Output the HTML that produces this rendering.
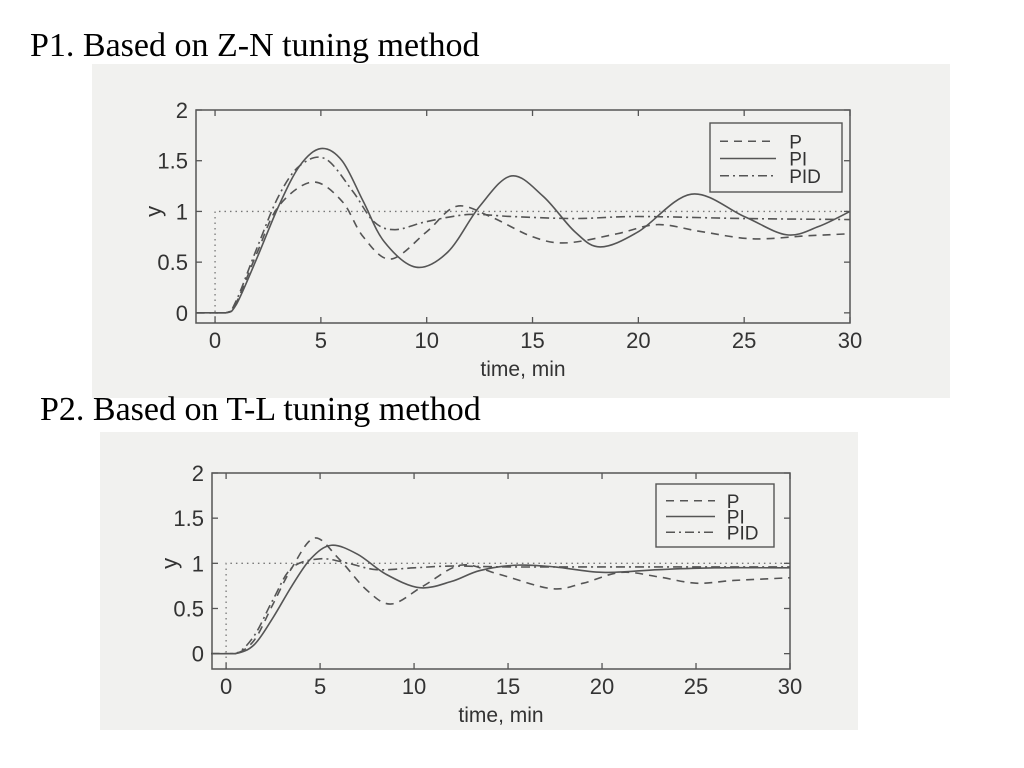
<!DOCTYPE html>
<html><head><meta charset="utf-8">
<style>
html,body{margin:0;padding:0;background:#fff;}
body{width:1024px;height:768px;position:relative;overflow:hidden;font-family:"Liberation Serif",serif;}
.title{position:absolute;font-family:"Liberation Serif",serif;font-size:34px;line-height:1;color:#000;white-space:nowrap;}
svg{position:absolute;left:0;top:0;}
</style></head>
<body>
<svg id="svg" width="1024" height="768">
  <rect x="92" y="64" width="858" height="334" fill="#f1f1ef"/>
  <rect x="100" y="432" width="758" height="298" fill="#f1f1ef"/>
</svg>
<div class="title" style="left:30px;top:29px;">P1. Based on Z-N tuning method</div>
<div class="title" style="left:40px;top:393px;">P2. Based on T-L tuning method</div>
<script>
// ---- Chart 1 (Z-N) data ----
const c1PI_t  = [-0.9,0.5,1,2,3,4,5,6,7,8,9.5,11,12.5,14,15.5,17,18.2,20,22.5,25,27,28.5,30];
const c1PI_v  = [0,0,0.08,0.55,1.05,1.45,1.62,1.5,1.1,0.7,0.45,0.6,1.05,1.35,1.15,0.8,0.65,0.8,1.17,0.95,0.77,0.85,1.0];
const c1P_t   = [-0.9,0.5,1,2,3,4.6,6,7,8.3,10,11.4,13,15,16.6,19,20.9,23,25.4,28,30];
const c1P_v   = [0,0,0.1,0.6,1.05,1.29,1.1,0.75,0.53,0.8,1.05,0.95,0.75,0.69,0.78,0.87,0.8,0.73,0.76,0.78];
const c1PID_t = [-0.9,0.5,1,2,3,4,5.2,6.5,7.5,8.5,10,12,14,17,20,25,30];
const c1PID_v = [0,0,0.12,0.65,1.15,1.45,1.52,1.2,0.9,0.82,0.9,0.97,0.95,0.93,0.95,0.93,0.92];
// ---- Chart 2 (T-L) data ----
const c2PI_t  = [-0.8,0.5,1.5,2.5,3.5,4.5,5.6,7,8.5,10.3,12,13.5,15.5,17.5,20,23,26,30];
const c2PI_v  = [0,0,0.1,0.4,0.75,1.05,1.2,1.1,0.88,0.73,0.8,0.92,0.98,0.96,0.9,0.93,0.95,0.95];
const c2P_t   = [-0.8,0.5,1.5,2.5,3.5,4.7,6,7.5,8.8,10.5,12.5,14.5,17.3,19,21,23,25,27,30];
const c2P_v   = [0,0,0.15,0.55,0.95,1.28,1.05,0.7,0.55,0.75,0.98,0.88,0.72,0.78,0.9,0.85,0.78,0.81,0.84];
const c2PID_t = [-0.8,0.5,1.5,2.5,3.5,5,6.5,8,10,12,15,20,30];
const c2PID_v = [0,0,0.2,0.6,0.95,1.05,1.0,0.93,0.95,0.97,0.96,0.96,0.96];
const xTicks = [0,5,10,15,20,25,30];
const yTicks = [0,0.5,1,1.5,2];
const yTickLabels = ["0","0.5","1","1.5","2"];
const legendLabels = ["P","PI","PID"];

const NS="http://www.w3.org/2000/svg";
const svg=document.getElementById('svg');
function mk(tag,attrs,parent){const e=document.createElementNS(NS,tag);for(const k in attrs)e.setAttribute(k,attrs[k]);(parent||svg).appendChild(e);return e;}

function drawChart(cfg){
  const g=mk('g',{});
  
  
  const X=t=>cfg.L+(t-cfg.x0)/(cfg.x1-cfg.x0)*(cfg.R-cfg.L);
  const Y=v=>cfg.B-(v-cfg.y0)/(cfg.y1-cfg.y0)*(cfg.B-cfg.T);
  const col="#555";
  const sp=mk('path',{d:`M${X(0)},${Y(cfg.y0)} L${X(0)},${Y(1)} L${X(30)},${Y(1)}`,fill:'none',stroke:'#777','stroke-width':1.3,'stroke-dasharray':'1.5,4'},g);
  
  
  const styles={P:'8,6',PI:'',PID:'9,4,2,4'};
  cfg.series.forEach(s=>{
    const pts=s.t.map((t,i)=>[X(t),Y(s.v[i])]);
    let d=`M${pts[0][0]},${pts[0][1]}`;
    for(let i=0;i<pts.length-1;i++){
      const p0=pts[Math.max(0,i-1)],p1=pts[i],p2=pts[i+1],p3=pts[Math.min(pts.length-1,i+2)];
      let c1=[p1[0]+(p2[0]-p0[0])/6,p1[1]+(p2[1]-p0[1])/6];
      let c2=[p2[0]-(p3[0]-p1[0])/6,p2[1]-(p3[1]-p1[1])/6];
      const bottom=Y(0);
      c1[1]=Math.min(c1[1],bottom);c2[1]=Math.min(c2[1],bottom);
      d+=` C${c1[0]},${c1[1]} ${c2[0]},${c2[1]} ${p2[0]},${p2[1]}`;
    }
    const p=mk('path',{d,fill:'none',stroke:col,'stroke-width':1.6},g);
    if(styles[s.key])p.setAttribute('stroke-dasharray',styles[s.key]);
    
    
  });
  const fr=mk('rect',{x:cfg.L,y:cfg.T,width:cfg.R-cfg.L,height:cfg.B-cfg.T,fill:'none',stroke:col,'stroke-width':1.5},g);
  
  
  xTicks.forEach(t=>{
    mk('line',{x1:X(t),x2:X(t),y1:cfg.B,y2:cfg.B-6,stroke:col,'stroke-width':1.3},g);
    mk('line',{x1:X(t),x2:X(t),y1:cfg.T,y2:cfg.T+6,stroke:col,'stroke-width':1.3},g);
    const tx=mk('text',{x:X(t),y:cfg.B+25,'text-anchor':'middle','font-family':'Liberation Sans, sans-serif','font-size':22,fill:'#333'},g);
    tx.textContent=t;
    
    
  });
  yTicks.forEach((v,i)=>{
    mk('line',{x1:cfg.L,x2:cfg.L+6,y1:Y(v),y2:Y(v),stroke:col,'stroke-width':1.3},g);
    mk('line',{x1:cfg.R,x2:cfg.R-6,y1:Y(v),y2:Y(v),stroke:col,'stroke-width':1.3},g);
    const tx=mk('text',{x:cfg.L-8,y:Y(v)+8,'text-anchor':'end','font-family':'Liberation Sans, sans-serif','font-size':22,fill:'#333'},g);
    tx.textContent=yTickLabels[i];
    
    
  });
  const xt=mk('text',{x:(cfg.L+cfg.R)/2,y:cfg.B+53,'text-anchor':'middle','font-family':'Liberation Sans, sans-serif','font-size':21,fill:'#333'},g);
  xt.textContent='time, min';
  
  
  const yt=mk('text',{x:cfg.L-42,y:Y(1),'text-anchor':'middle','font-family':'Liberation Sans, sans-serif','font-size':22,fill:'#333',transform:`rotate(-90 ${cfg.L-42} ${Y(1)})`,dy:7},g);
  yt.textContent='y';
  
  
  const lg=cfg.leg;
  const lr=mk('rect',{x:lg.x,y:lg.y,width:lg.w,height:lg.h,fill:'none',stroke:col,'stroke-width':1.4},g);
  
  
  legendLabels.forEach((lab,i)=>{
    const yy=lg.y+lg.h*(0.25+0.25*i)+1;
    const ln=mk('line',{x1:lg.x+10,x2:lg.x+lg.w*0.5,y1:yy,y2:yy,stroke:col,'stroke-width':1.6},g);
    if(styles[lab])ln.setAttribute('stroke-dasharray',styles[lab]);
    
    
    const tx=mk('text',{x:lg.x+lg.w*0.6,y:yy+7,'font-family':'Liberation Sans, sans-serif','font-size':19,fill:'#333'},g);
    tx.textContent=lab;
    
    
  });
}

drawChart({name:'chart-zn',L:196,R:850,T:110,B:323,x0:-0.9,x1:30,y0:-0.1,y1:2,
  leg:{x:710,y:123,w:132,h:69},
  series:[{key:'P',t:c1P_t,v:c1P_v},{key:'PI',t:c1PI_t,v:c1PI_v},{key:'PID',t:c1PID_t,v:c1PID_v}]});
drawChart({name:'chart-tl',L:212,R:790,T:473,B:669,x0:-0.75,x1:30,y0:-0.17,y1:2,
  leg:{x:656,y:484,w:118,h:63},
  series:[{key:'P',t:c2P_t,v:c2P_v},{key:'PI',t:c2PI_t,v:c2PI_v},{key:'PID',t:c2PID_t,v:c2PID_v}]});
</script>
</body></html>
